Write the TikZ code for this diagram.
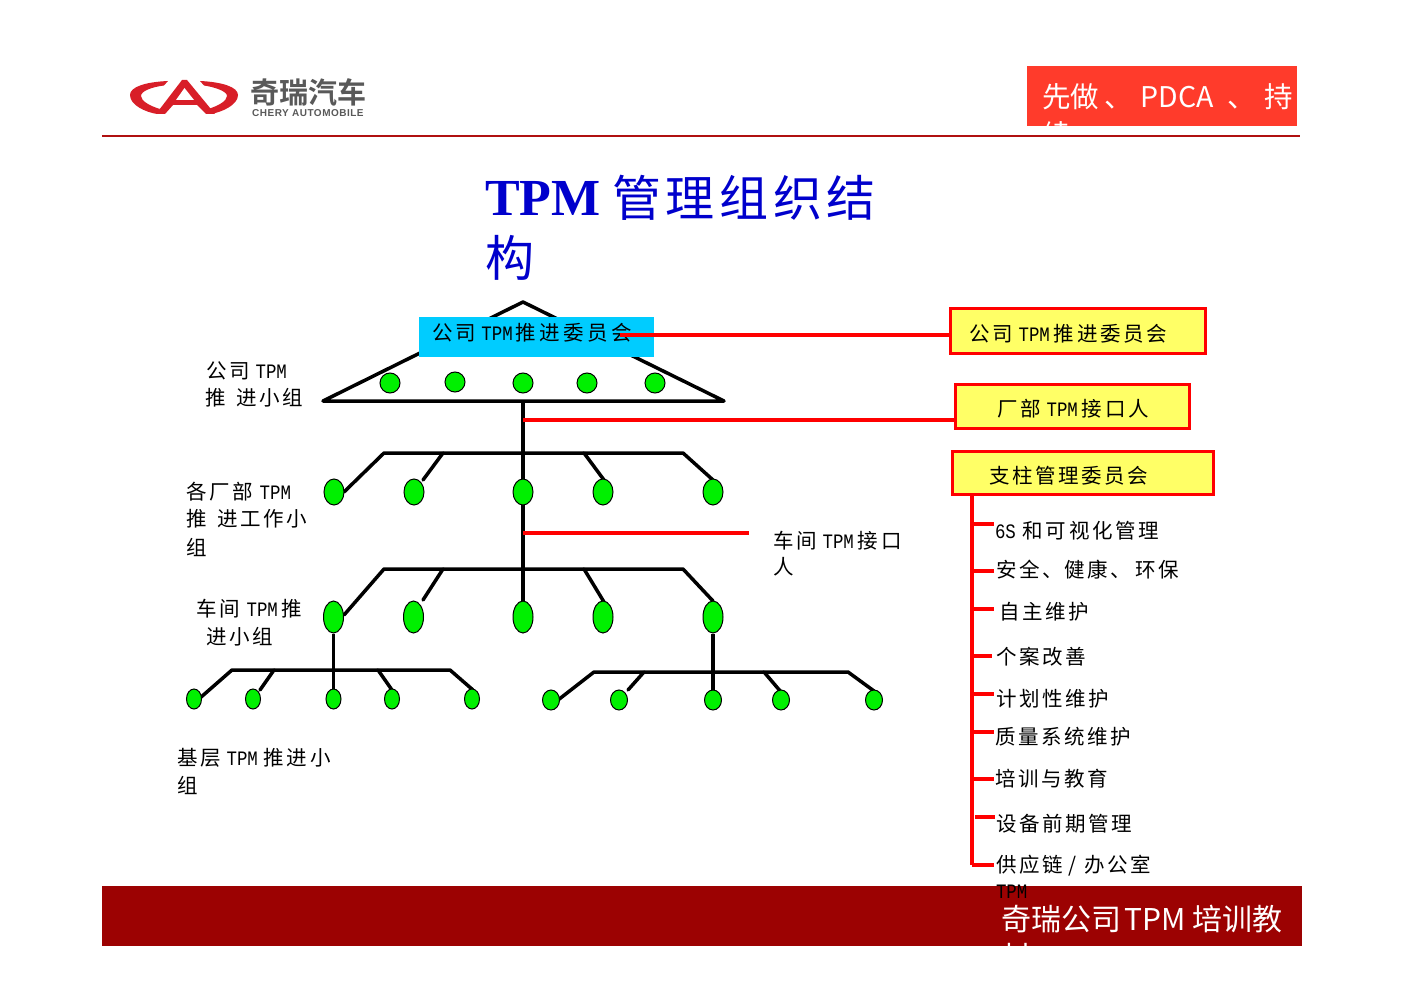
\documentclass[tikz,border=0pt]{standalone}
\usepackage{fontspec}
\setmainfont{Liberation Serif}
\newfontfamily\cjk{Noto Sans CJK SC}[LetterSpace=12.5]
\newfontfamily\cjkwide{Noto Sans CJK SC}[LetterSpace=17]
\newfontfamily\cjktitle{Noto Sans CJK SC}[LetterSpace=9.5]
\newfontfamily\cjktight{Noto Sans CJK SC}
\newfontfamily\cjkbold{Noto Sans CJK SC}[BoldFont={Noto Sans CJK SC Bold}]
\newfontfamily\lat{Liberation Mono}[FakeStretch=0.85]
\newfontfamily\logosans{Liberation Sans}[LetterSpace=5]
\newcommand{\TPM}{{\lat TPM}}
\definecolor{grn}{HTML}{00F000}
\definecolor{sky}{HTML}{00CCFF}
\definecolor{ylw}{HTML}{FFFF66}
\definecolor{hdr}{HTML}{FF3B2B}
\definecolor{ftr}{HTML}{9C0202}
\definecolor{rule}{HTML}{B01010}
\definecolor{logored}{HTML}{D81E28}
\definecolor{titleblue}{HTML}{0000CC}
\tikzset{
  lbl/.style={anchor=west,inner sep=0pt,outer sep=0pt,yshift=-1pt,font=\fontsize{20.5}{24}\selectfont\cjk,text=black},
  blk/.style={draw=black,line width=3.5pt,line cap=round,line join=round},
  redl/.style={draw=red,line width=3.5pt},
  redb/.style={draw=red,line width=4.5pt},
  dotc/.style={circle,draw=black,line width=1pt,fill=grn,minimum size=20pt,inner sep=0pt},
  dotl/.style={ellipse,draw=black,line width=1pt,fill=grn,minimum width=20pt,minimum height=26pt,inner sep=0pt},
  dotm/.style={ellipse,draw=black,line width=1pt,fill=grn,minimum width=20pt,minimum height=32pt,inner sep=0pt},
  dots/.style={ellipse,draw=black,line width=1pt,fill=grn,minimum width=15pt,minimum height=20pt,inner sep=0pt},
  dotr/.style={ellipse,draw=black,line width=1pt,fill=grn,minimum width=17pt,minimum height=20pt,inner sep=0pt},
  ybox/.style={draw=red,line width=3pt,fill=ylw,inner sep=0pt,outer sep=0pt,anchor=north west},
}
\usetikzlibrary{shapes.geometric}
\begin{document}
\begin{tikzpicture}[x=1pt,y=-1pt]
\useasboundingbox (0,0) rectangle (1402,992);
\fill[white] (0,0) rectangle (1402,992);

% logo
\fill[logored] (168,81) .. controls (145,82) and (130,87) .. (130,95) .. controls (130,105) and (145,112) .. (157,114) -- (160,109) .. controls (150,106) and (141,101) .. (141,96) .. controls (141,91) and (152,87) .. (164,85.5) -- cycle;
\fill[logored] (200,81) .. controls (222,82) and (238,87) .. (238,95) .. controls (238,105) and (222,112) .. (211,114) -- (208,109) .. controls (218,106) and (227,101) .. (227,96) .. controls (227,91) and (214,87) .. (204,85.5) -- cycle;
\fill[logored] (182,80) -- (187,80) -- (215,114) -- (206,114) -- (197,105) -- (173,105) -- (165,114) -- (156,114) -- cycle;
\fill[white] (184.5,88) -- (194,100) -- (176,100) -- cycle;
\node[anchor=west,inner sep=0pt,font=\fontsize{29}{30}\selectfont\cjkbold\bfseries,text=black!65] (logotext) at (250,92) {奇瑞汽车};
\node[anchor=west,inner sep=0pt,font=\fontsize{10}{10}\selectfont\logosans\bfseries,text=black!65] (logosub) at (252,113) {CHERY AUTOMOBILE};

% header
\fill[hdr] (1027,66) rectangle (1297,126);
\begin{scope}
\clip (1027,66) rectangle (1297,126);
\node[anchor=west,inner sep=0pt,font=\fontsize{28.5}{30}\selectfont\cjktight,text=white] (hdra) at (1042,97) {先做\hspace{5pt}、\hspace{8pt}PDCA\hspace{14pt}、\hspace{8pt}持};
\node[anchor=west,inner sep=0pt,font=\fontsize{28.5}{30}\selectfont\cjktight,text=white] (hdrb) at (1042,135) {续};
\end{scope}
\draw[draw=rule,line width=2.5pt] (102,136) -- (1300,136);

% title
\node[anchor=west,inner sep=0pt,font=\fontsize{52}{52}\selectfont\bfseries,text=titleblue] (tt) at (485,198) {TPM};
\node[anchor=west,inner sep=0pt,font=\fontsize{49}{49}\selectfont\cjktitle,text=titleblue] (ttb) at (612,198) {管理组织结};
\node[anchor=west,inner sep=0pt,font=\fontsize{49}{49}\selectfont\cjktitle,text=titleblue] (ttc) at (485,258) {构};

% top triangle
\coordinate (apex) at (523,302);
\coordinate (tl) at (323,401);
\coordinate (tr) at (724,401);
\coordinate (tm) at (523,401);
\draw[blk] (apex) -- (tl) -- (tr) -- cycle;
\node[dotc] (c1) at (390,383) {};
\node[dotc] (c2) at (455,382) {};
\node[dotc] (c3) at (523,383) {};
\node[dotc] (c4) at (587,383) {};
\node[dotc] (c5) at (655,383) {};
\fill[sky] (419,317) rectangle (654,357);
\node[lbl,font=\fontsize{20.5}{24}\selectfont\cjkwide] (bluet) at (432,332) {公司\hspace{5pt}\TPM\hspace{3pt}推进委员会};

% yellow boxes
\node[ybox,minimum width=255pt,minimum height=45pt] (y1) at (950,308) {};
\node[ybox,minimum width=234pt,minimum height=44pt] (y2) at (955,384) {};
\node[ybox,minimum width=261pt,minimum height=43pt] (y3) at (952,451) {};
\node[lbl] at (969,333) {公司\hspace{6pt}\TPM\hspace{4pt}推进委员会};
\node[lbl] at (997,408) {厂部\hspace{6pt}\TPM\hspace{4pt}接口人};
\node[lbl] at (989,475) {支柱管理委员会};

% red connectors
\coordinate (r1) at (620,335);
\coordinate (r2) at (523,420);
\coordinate (r3) at (523,533);
\coordinate (r3e) at (749,533);
\coordinate (y1w) at (950,335);
\coordinate (y2w) at (955,420);

% level 1
\coordinate (b1) at (384,453); \coordinate (b2) at (443,453); \coordinate (bm) at (523,453);
\coordinate (b3) at (584,453); \coordinate (b4) at (683,453);
\coordinate (s1) at (344,492); \coordinate (s2) at (423,480); \coordinate (s3) at (604,480); \coordinate (s4) at (713,480);
% level 2
\coordinate (d1) at (384,569); \coordinate (d2) at (443,569); \coordinate (dm) at (523,569);
\coordinate (d3) at (584,569); \coordinate (d4) at (683,569);
\coordinate (e1) at (344,615); \coordinate (e2) at (423,600); \coordinate (e3) at (604,602); \coordinate (e4) at (713,601);
% level 3 left
\coordinate (f1) at (232,670); \coordinate (f2) at (274,670); \coordinate (fm) at (333,670);
\coordinate (f3) at (378,670); \coordinate (f4) at (450,670);
\coordinate (g1) at (200,698); \coordinate (g2) at (260,690); \coordinate (g3) at (392,690); \coordinate (g4) at (473,690);
% level 3 right
\coordinate (h1) at (594,672); \coordinate (h2) at (644,672); \coordinate (hm) at (713,672);
\coordinate (h3) at (764,672); \coordinate (h4) at (848,672);
\coordinate (i1) at (558,700); \coordinate (i2) at (628,690); \coordinate (i3) at (781,692); \coordinate (i4) at (874,691);

\draw[blk,line cap=butt] (tm) -- (523,617);
\draw[blk] (s1) -- (b1) -- (b4) -- (s4);
\draw[blk] (s2) -- (b2);
\draw[blk] (b3) -- (s3);
\draw[blk] (e1) -- (d1) -- (d4) -- (e4);
\draw[blk] (e2) -- (d2);
\draw[blk] (d3) -- (e3);
\draw[blk] (g1) -- (f1) -- (f4) -- (g4);
\draw[blk] (g2) -- (f2);
\draw[blk] (f3) -- (g3);
\draw[blk] (i1) -- (h1) -- (h4) -- (i4);
\draw[blk] (i2) -- (h2);
\draw[blk] (h3) -- (i3);

\node[dotl] (l1) at (334,492) {};
\node[dotl] (l2) at (414,492) {};
\node[dotl] (l3) at (523,492) {};
\node[dotl] (l4) at (603,492) {};
\node[dotl] (l5) at (713,492) {};
\node[dotm] (m1) at (333.5,617) {};
\node[dotm] (m2) at (413.5,617) {};
\node[dotm] (m3) at (523,617) {};
\node[dotm] (m4) at (603,617) {};
\node[dotm] (m5) at (713,617) {};
\node[dots] (n1) at (194,699) {};
\node[dots] (n2) at (253,699) {};
\node[dots] (n3) at (333.5,699) {};
\node[dots] (n4) at (392,699) {};
\node[dots] (n5) at (472,699) {};
\node[dotr] (o1) at (551,700) {};
\node[dotr] (o2) at (619,700) {};
\node[dotr] (o3) at (713,700) {};
\node[dotr] (o4) at (781,700) {};
\node[dotr] (o5) at (874,700) {};
\draw[blk,line cap=butt] (m1) -- (n3);
\draw[blk,line cap=butt] (m5) -- (o3);

\draw[redl] (r1) -- (y1w);
\draw[redl] (r2) -- (y2w);
\draw[redl] (r3) -- (r3e);

% red tree
\coordinate (t0) at (972,494);
\coordinate (t9) at (972,865);
\coordinate (t1) at (972,524); \coordinate (t2) at (972,571); \coordinate (t3) at (972,609);
\coordinate (t4) at (972,656); \coordinate (t5) at (972,694); \coordinate (t6) at (972,732);
\coordinate (t7) at (972,779); \coordinate (t8) at (975,817);
\draw[redb] (t0) -- (t9);
\draw[redl] (t1) -- (994,524);
\draw[redl] (t2) -- (994,571);
\draw[redl] (t3) -- (994,609);
\draw[redl] (t4) -- (992,656);
\draw[redl] (t5) -- (994,694);
\draw[redl] (t6) -- (994,732);
\draw[redl] (t7) -- (994,779);
\draw[redl] (t8) -- (995,817);
\draw[redl] (t9) -- (994,865);

% right labels
\node[lbl] (p1) at (995,530) {{\lat 6S}\hspace{7pt}和可视化管理};
\node[lbl] (p2) at (996,569) {安全、\hspace{2pt}健康、\hspace{4pt}环保};
\node[lbl] (p3) at (999,611) {自主维护};
\node[lbl] (p4) at (996,656) {个案改善};
\node[lbl] (p5) at (996,698) {计划性维护};
\node[lbl] (p6) at (995,736) {质量系统维护};
\node[lbl] (p7) at (995,778) {培训与教育};
\node[lbl] (p8) at (996,823) {设备前期管理};
\node[lbl] (p9) at (996,865) {供应链\hspace{6pt}/\hspace{8pt}办公室};

% left labels
\node[lbl] at (206,370) {公司\hspace{6pt}\TPM};
\node[lbl] at (205,397) {推\hspace{11pt}进小组};
\node[lbl] at (186,491) {各厂部\hspace{7pt}\TPM};
\node[lbl] at (186,518) {推\hspace{11pt}进工作小};
\node[lbl] at (186,546) {组};
\node[lbl] at (196,608) {车间\hspace{7pt}\TPM\hspace{4pt}推};
\node[lbl] at (206,636) {进小组};
\node[lbl] at (177,757) {基层\hspace{6pt}\TPM\hspace{6pt}推进小};
\node[lbl] at (177,784) {组};
\node[lbl] at (773,540) {车间\hspace{6pt}\TPM\hspace{4pt}接口};
\node[lbl] at (773,566) {人};

% footer
\fill[ftr] (102,886) rectangle (1302,946);
\node[lbl] (p10) at (996,891) {\TPM};
\begin{scope}
\clip (102,886) rectangle (1302,946);
\node[anchor=west,inner sep=0pt,font=\fontsize{30}{31}\selectfont\cjktight,text=white] (fta) at (1001,919) {奇瑞公司\hspace{3pt}TPM\hspace{7pt}培训教};
\node[anchor=west,inner sep=0pt,font=\fontsize{30}{31}\selectfont\cjktight,text=white] (ftb) at (1001,957) {材};
\end{scope}
\end{tikzpicture}
\end{document}
